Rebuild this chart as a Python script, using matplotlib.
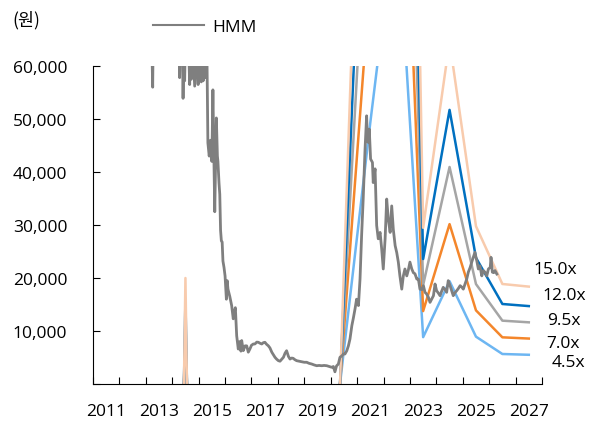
import matplotlib
matplotlib.use('Agg')
import matplotlib.pyplot as plt
from matplotlib.ticker import FixedLocator, NullFormatter

plt.rcParams['font.family'] = ['Open Sans', 'Noto Sans CJK KR', 'DejaVu Sans']

# ---- HMM share price (KRW) ----
price_years = [
    2013.20, 2013.26, 2013.29, 2013.60, 2013.88, 2013.90, 2013.92, 2014.10,
    2014.26, 2014.28, 2014.30, 2014.39, 2014.41, 2014.44, 2014.47, 2014.50,
    2014.62, 2014.66, 2014.69, 2014.72, 2014.76, 2014.85, 2014.89, 2014.98,
    2015.02, 2015.10, 2015.13, 2015.17, 2015.22, 2015.27, 2015.31,
    2015.35, 2015.40, 2015.45, 2015.50, 2015.54, 2015.57, 2015.61, 2015.64,
    2015.67, 2015.71, 2015.73, 2015.77, 2015.80, 2015.83, 2015.86, 2015.89,
    2015.92, 2015.96, 2016.00, 2016.05, 2016.08, 2016.11, 2016.18, 2016.25,
    2016.31, 2016.35, 2016.39, 2016.42, 2016.44, 2016.50, 2016.55, 2016.60,
    2016.63, 2016.69, 2016.76, 2016.82, 2016.88, 2016.94, 2017.00, 2017.07,
    2017.13, 2017.20, 2017.26, 2017.32, 2017.39, 2017.45, 2017.51, 2017.57,
    2017.64, 2017.70, 2017.77, 2017.83, 2017.89, 2017.95, 2018.02, 2018.08,
    2018.15, 2018.21, 2018.27, 2018.33, 2018.40, 2018.46, 2018.52, 2018.58,
    2018.64, 2018.71, 2018.80, 2018.90, 2019.00, 2019.09, 2019.18, 2019.28,
    2019.37, 2019.47, 2019.56, 2019.66, 2019.75, 2019.85, 2019.95, 2020.04,
    2020.10, 2020.16, 2020.22, 2020.29, 2020.35, 2020.42, 2020.48, 2020.54,
    2020.61, 2020.67, 2020.73, 2020.80, 2020.86, 2020.92, 2020.98, 2021.02,
    2021.05, 2021.11, 2021.17, 2021.23, 2021.30, 2021.36, 2021.39, 2021.42,
    2021.46, 2021.51, 2021.58, 2021.61, 2021.68, 2021.72, 2021.74, 2021.80,
    2021.87, 2021.93, 2021.99, 2022.06, 2022.12, 2022.18, 2022.25, 2022.31,
    2022.37, 2022.44, 2022.50, 2022.56, 2022.62, 2022.69, 2022.75, 2022.81,
    2022.88, 2022.94, 2023.00, 2023.07, 2023.13, 2023.19, 2023.26, 2023.32,
    2023.38, 2023.45, 2023.51, 2023.57, 2023.63, 2023.70, 2023.76, 2023.82,
    2023.89, 2023.95, 2024.01, 2024.07, 2024.14, 2024.20, 2024.26, 2024.33,
    2024.39, 2024.45, 2024.52, 2024.58, 2024.64, 2024.70, 2024.77, 2024.83,
    2024.90, 2024.96, 2025.02, 2025.08, 2025.15, 2025.21, 2025.28, 2025.34,
    2025.40, 2025.46, 2025.53, 2025.59, 2025.65, 2025.72, 2025.78, 2025.84,
    2025.91, 2025.97, 2026.04, 2026.07, 2026.12, 2026.17, 2026.22, 2026.29,
]
price_values = [
    70000, 56000, 72000, 78000, 64000, 60300, 66000, 75000,
    63000, 57800, 64000, 62000, 53900, 63000, 57200, 66000,
    64000, 56500, 63000, 57500, 65000, 56200, 63000, 56500,
    61000, 57000, 62000, 57200, 61500, 57800, 64000,
    45500, 43000, 46000, 42000, 55500, 45000, 32500, 42000,
    50200, 43000, 42000, 38000, 35800, 29000, 27000, 26800,
    23200, 22000, 20400, 16000, 19500, 17900, 16500, 14800,
    12300, 13600, 14400, 11000, 9100, 6600, 8000, 6200,
    8200, 6300, 7200, 7200, 6000, 6600, 7300, 7550,
    7550, 7900, 7870, 7700, 7550, 7800, 7870, 7500,
    7200, 6800, 6000, 5500, 5040, 4700, 4400, 4300,
    4700, 5040, 5800, 6280, 5200, 4700, 4900, 4840,
    4600, 4400, 4300, 4200, 4100, 4100, 3900, 3770,
    3600, 3450, 3500, 3450, 3500, 3450, 3300, 3150,
    3300, 2300, 3400, 3770, 5040, 5300, 5660, 5660,
    6280, 7200, 8500, 11000, 12500, 14150, 16000, 15500,
    14800, 19800, 28000, 34900, 44300, 50600, 46000, 45600,
    48100, 42450, 41800, 38000, 40600, 33000, 29900, 27400,
    28600, 25500, 21700, 27400, 34900, 31100, 28600, 33600,
    29200, 26100, 24800, 23000, 20400, 17900, 20400, 21700,
    20400, 21500, 23000, 21700, 21000, 20800, 19800, 19800,
    17900, 17800, 18550, 17300, 17000, 16350, 15400, 16000,
    16660, 18870, 17600, 17200, 16660, 17500, 18240, 17800,
    17300, 19500, 18550, 17600, 16660, 17200, 17600, 18000,
    18550, 18300, 17900, 18800, 19800, 21100, 22000, 23000,
    23900, 24850, 23260, 21700, 22300, 20400, 21400, 21100,
    20400, 21700, 22000, 23900, 21100, 21000, 21400, 20750,
]

# ---- Earnings per share behind the multiple bands (KRW) ----
band_years = [2011.5, 2012.5, 2013.5, 2014.5, 2015.5, 2016.5, 2017.5, 2018.5,
              2019.5, 2020.5, 2021.5, 2022.5, 2023.5, 2024.5, 2025.5, 2026.5,
              2027.5]
eps = [-15000, -20000, -22000, 1333, -22000, -15000, -8000, -7000,
       -8200, 1418, 10970, 20000, 1965, 4310, 1985, 1258,
       1225]
multiples = [4.5, 7.0, 9.5, 12.0, 15.0]
band_labels = ['4.5x', '7.0x', '9.5x', '12.0x', '15.0x']
band_colors = ['#6DB6F2', '#F4862B', '#A5A5A5', '#0070C0', '#F8CBAD']

x_tick_years = list(range(2011, 2029))
x_label_years = [2011, 2013, 2015, 2017, 2019, 2021, 2023, 2025, 2027]
x_label_text = ['2011', '2013', '2015', '2017', '2019', '2021', '2023', '2025', '2027']
y_ticks = [0, 10000, 20000, 30000, 40000, 50000, 60000]
y_tick_labels = ['', '10,000', '20,000', '30,000', '40,000', '50,000', '60,000']

W, H = 589, 427
fig = plt.figure(figsize=(W / 100, H / 100), dpi=100)
ax = fig.add_axes([93 / W, 1 - 385 / H, 449 / W, 318 / H])

for m, c in zip(multiples, band_colors):
    ax.plot(band_years, [m * e for e in eps], color=c, lw=1.8, zorder=2)

hmm_line, = ax.plot(price_years, price_values, color='#7F7F7F', lw=2.0,
                    zorder=3, label='HMM')

ax.set_xlim(2011, 2028)
ax.set_ylim(0, 60000)

ax.xaxis.set_major_locator(FixedLocator(x_tick_years))
ax.xaxis.set_major_formatter(NullFormatter())
ax.xaxis.set_minor_locator(FixedLocator([y + 0.5 for y in x_label_years]))
ax.set_xticklabels(x_label_text, minor=True)
ax.tick_params(axis='x', which='major', direction='in', length=5, width=0.8,
               color='#000000')
ax.tick_params(axis='x', which='minor', length=0, pad=13.5, labelsize=12.5)

ax.set_yticks(y_ticks)
ax.set_yticklabels(y_tick_labels)
ax.tick_params(axis='y', direction='in', length=5, width=0.8, pad=18.5,
               labelsize=12.5, color='#000000')

for s in ['top', 'right']:
    ax.spines[s].set_visible(False)
for s in ['left', 'bottom']:
    ax.spines[s].set_linewidth(0.8)
    ax.spines[s].set_color('#000000')

# right-hand band labels (axes-fraction positions)
label_pos = {
    '15.0x': (0.980, 0.362),
    '12.0x': (1.002, 0.280),
    '9.5x': (1.011, 0.201),
    '7.0x': (1.009, 0.129),
    '4.5x': (1.022, 0.069),
}
for lab in band_labels:
    px, py = label_pos[lab]
    ax.text(px, py, lab, transform=ax.transAxes, ha='left', va='center',
            fontsize=12.5, color='#000000', clip_on=False)

fig.text(12 / W, 1 - 20 / H, '(원)', ha='left', va='center', fontsize=12.5,
         family=['Noto Sans CJK KR', 'DejaVu Sans'])

legend_handle = plt.Line2D([], [], color='#7F7F7F', lw=1.5)
fig.legend(handles=[legend_handle], labels=['HMM'], loc='center left',
           bbox_to_anchor=(153 / W, 1 - 28 / H), frameon=False,
           fontsize=12.5, handlelength=2.95, handletextpad=0.45,
           borderpad=0, borderaxespad=0)

fig.savefig('out.png', dpi=100)
